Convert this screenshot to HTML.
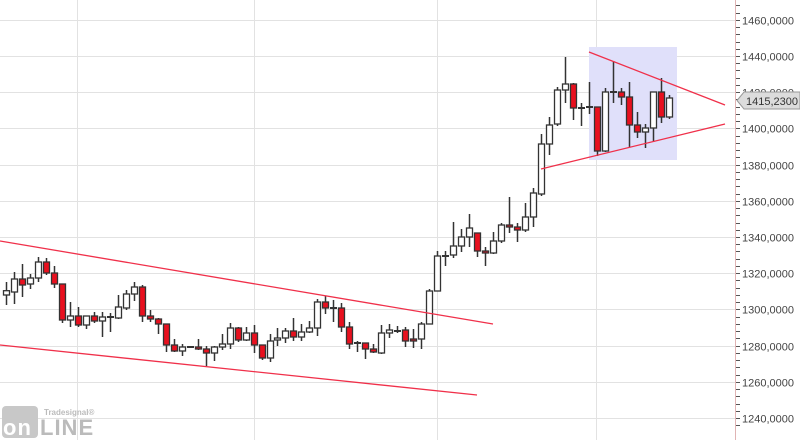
<!DOCTYPE html>
<html><head><meta charset="utf-8"><style>
html,body{margin:0;padding:0;background:#fff;width:800px;height:440px;overflow:hidden}
svg{display:block}
text{font-family:"Liberation Sans",sans-serif}
</style></head><body>
<svg id="s" width="800" height="440" viewBox="0 0 800 440" xmlns="http://www.w3.org/2000/svg">
<g id="grid" stroke="#e2e2e2" stroke-width="1"></g>
<rect x="589" y="47" width="88" height="113" fill="#e0e0fa"/>
<g id="c"></g>
<g stroke="#f0304a" stroke-width="1.3" fill="none">
<line x1="0" y1="241" x2="493" y2="324"/>
<line x1="0" y1="345" x2="477" y2="395"/>
<line x1="589" y1="52" x2="725" y2="105"/>
<line x1="541" y1="169" x2="725" y2="124"/>
</g>
<line x1="735.5" y1="0" x2="735.5" y2="440" stroke="#e0b4b4"/>
<g id="ax" fill="#444" font-size="11"></g>
<path d="M737,100.5 L744,92 L800,92 L800,109 L744,109 Z" fill="#dcdcdc" stroke="#999"/>
<text x="746" y="105" font-size="11" fill="#333">1415,2300</text>
<g>
<rect x="2" y="406" width="36" height="32" rx="4" fill="#c8c8c8"/>
<text x="44" y="415" font-size="8" font-weight="bold" fill="#bbb">Tradesignal®</text>
<text x="3" y="435" font-size="22" font-weight="bold" fill="#fff" letter-spacing="1">on</text>
<text x="40" y="435" font-size="22" font-weight="bold" fill="#bbb" letter-spacing="1">LINE</text>
</g>
</svg>
<script>
var ns="http://www.w3.org/2000/svg";
function el(p,t,a){var e=document.createElementNS(ns,t);for(var k in a)e.setAttribute(k,a[k]);p.appendChild(e);return e;}
var g=document.getElementById('grid'),ax=document.getElementById('ax'),c=document.getElementById('c');
function Y(v){return 56+(1440-v)*1.81;}
for(var v=1240;v<=1460;v+=20){var y=Math.round(Y(v))+0.5;el(g,'line',{x1:0,y1:y,x2:735,y2:y});
var t=el(ax,'text',{x:742,y:y+4});t.textContent=v+',0000';}
[77.5,254.5,437.5,596.5].forEach(function(x){el(g,'line',{x1:x,y1:0,x2:x,y2:440});});
for(var v=1236;v<=1472;v+=4){var y=Math.round(Y(v))+0.5;el(ax,'line',{x1:736,y1:y,x2:740,y2:y,stroke:'#555'});}
var d=[[6,290.7,295,282,305,0],[14,279,292,272,304,0],[22,279,285,264,297,1],[30,278,284,274,289,0],[38,262,278,257,282,0],[46,262,273,258,275,1],[54,273,284,266,288,1],[62,284,320,284,323,1],[70,316,320,302,327,0],[78,316,325,307,327,1],[86,316,325,316,329,0],[94,316,321,312,323,1],[102,317,321,312,337,0],[110,317,317,313,332,0],[118,307,318,295,319,0],[126,294,308,290,310,0],[134,287,294,282,301,0],[142,287,316,285,322,1],[150,316,319,310,322,1],[158,319,324,318,334,1],[166,324,345,324,352,1],[174,345,351,339,352,1],[182,347,351,344,356,0],[190,347,347,347,348,0],[198,347,349,339,350,1],[206,349,353,346,366,1],[214,347,353,346,361,0],[222,344,347,334,350,0],[230,328,344,323,349,0],[238,328,340,327,342,1],[246,333,340,327,341,0],[254,333,345,325,353,1],[262,345,358,345,360,1],[270,341,358,334,362,0],[277,338,340,328,346,0],[285,331,338,328,343,0],[293,331,337,318,341,1],[301,332,337,324,341,0],[309,328,332,321,333,0],[317,302,328,299,336,0],[325,302,308,296,314,1],[333,308,308,300,322,0],[341,308,327,303,332,1],[349,327,344,322,349,1],[357,343,343,341,352,0],[365,343,349,343,359,1],[373,349,352,344,353,1],[381,333,353,325,354,0],[389,330,333,324,338,0],[397,331,331,326,333,0],[405,330,341,327,347,1],[413,339,341,329,348,1],[421,324,339,322,349,0],[429,291,324,289,324,0],[437,256,291,251,291,0],[445,256,256,251,266,0],[453,246,255,222,258,0],[461,237,246,229,252,0],[469,228,237,214,247,0],[477,233,251,233,257,1],[485,251,253,247,266,1],[493,241,253,232,254,0],[501,225,241,223,243,0],[509,225,227,197,233,1],[517,227,230,223,242,1],[525,217,230,203,232,0],[533,193,217,188,227,0],[541,144,194,134,196,0],[549,125,144,117,155,0],[557,90,124,87,126,0],[565,84,90,57,103,0],[573,84,108,83,120,1],[581,108,108,103,126,0],[589,107,107,82,114,0],[597,107,151,107,156,1],[605,92,151,88,152,0],[613,92,92,61,103,0],[621,92,97,88,105,1],[629,97,125,82,147,1],[637,125,132,112,138,1],[645,128,132,124,148,0],[653,92,128,92,142,0],[661,92,117,78,123,1],[669,98,117,95,119,0]];
d.forEach(function(a){var x=a[0]+0.5;el(c,'line',{x1:x,y1:a[3],x2:x,y2:a[4],stroke:'#333','stroke-width':1.5});
var h=a[2]-a[1];if(h<1.5){el(c,'line',{x1:x-3.5,y1:a[1],x2:x+3.5,y2:a[1],stroke:'#333','stroke-width':2});}
else el(c,'rect',{x:x-3,y:a[1],width:6,height:h,fill:a[5]?'#e8101e':'#fff',stroke:'#333','stroke-width':1.3});});
</script>
</body></html>
